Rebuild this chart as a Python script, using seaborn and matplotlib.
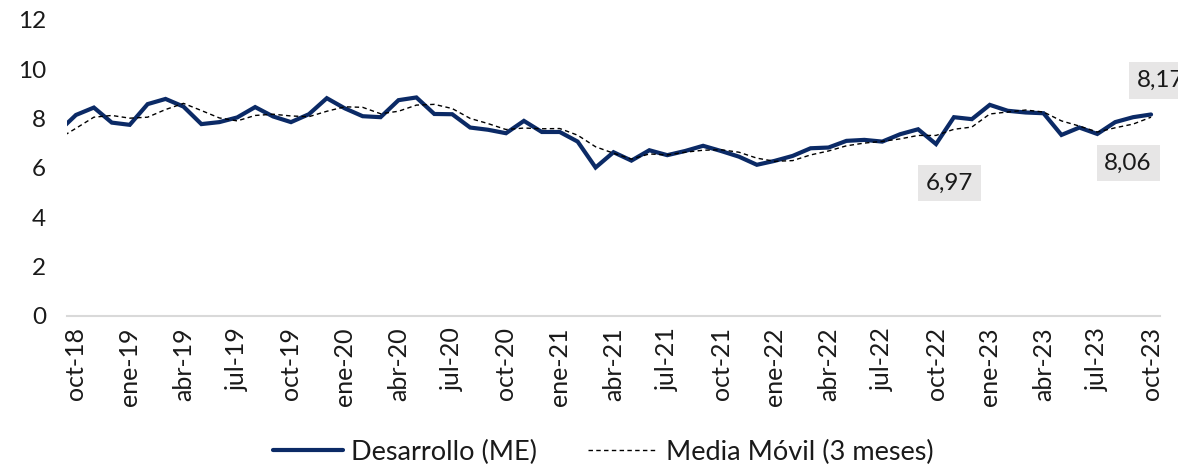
import numpy as np
import pandas as pd
import matplotlib
matplotlib.use("Agg")
import matplotlib.pyplot as plt
import seaborn as sns

# month index relative to oct-18 (first value is sep-18, partly outside the plot)
month_idx = list(range(-1, 61))
desarrollo = [7.46, 8.15, 8.45, 7.84, 7.75, 8.59, 8.80, 8.49, 7.78, 7.86, 8.05,
              8.47, 8.09, 7.86, 8.18, 8.83, 8.42, 8.10, 8.06, 8.75, 8.86, 8.19,
              8.18, 7.64, 7.55, 7.41, 7.91, 7.46, 7.46, 7.07, 6.02, 6.64, 6.30,
              6.72, 6.52, 6.69, 6.90, 6.69, 6.46, 6.13, 6.29, 6.49, 6.80, 6.83,
              7.10, 7.14, 7.07, 7.37, 7.57, 6.97, 8.06, 7.98, 8.56, 8.32, 8.25,
              8.22, 7.34, 7.64, 7.38, 7.86, 8.06, 8.17]
media_movil = [7.17, 7.61, 8.06, 8.13, 8.02, 8.06, 8.37, 8.62, 8.33, 8.03, 7.91,
               8.13, 8.18, 8.11, 8.08, 8.30, 8.48, 8.46, 8.20, 8.30, 8.55, 8.58,
               8.41, 8.01, 7.80, 7.56, 7.62, 7.59, 7.60, 7.33, 6.86, 6.60, 6.36,
               6.57, 6.53, 6.64, 6.72, 6.74, 6.64, 6.40, 6.27, 6.30, 6.53, 6.69,
               6.90, 7.01, 7.08, 7.18, 7.32, 7.32, 7.57, 7.66, 8.19, 8.27, 8.35,
               8.27, 7.91, 7.70, 7.46, 7.63, 7.78, 8.06]
tick_labels = ["oct-18", "ene-19", "abr-19", "jul-19", "oct-19", "ene-20", "abr-20",
               "jul-20", "oct-20", "ene-21", "abr-21", "jul-21", "oct-21", "ene-22",
               "abr-22", "jul-22", "oct-22", "ene-23", "abr-23", "jul-23", "oct-23"]
series_names = ["Desarrollo (ME)", "Media Móvil (3 meses)"]
callouts = [(series_names[0], 48, "6,97"), (series_names[1], 60, "8,06"), (series_names[0], 60, "8,17")]

df = pd.DataFrame({
    "mes": month_idx * 2,
    "valor": desarrollo + media_movil,
    "serie": [series_names[0]] * len(desarrollo) + [series_names[1]] * len(media_movil),
})

sns.set_theme(style="white")
plt.rcParams["font.family"] = ["Lato", "DejaVu Sans"]
txt_color = "#1a1a1a"

fig = plt.figure(figsize=(11.78, 4.67), dpi=100)
ax = fig.add_axes([67 / 1178, 1 - 316 / 467, (1160 - 67) / 1178, (316 - 20) / 467])

navy = "#0b2a66"
sns.lineplot(data=df[df.serie == series_names[0]], x="mes", y="valor", ax=ax,
             color=navy, linewidth=3.0, label=series_names[0], solid_joinstyle="miter")
sns.lineplot(data=df[df.serie == series_names[1]], x="mes", y="valor", ax=ax,
             color="black", linewidth=1.0, dashes=False, label=series_names[1])
ax.lines[1].set_dashes([3.2, 2.4])

ax.set_xlim(-0.5, 60.5)
ax.set_ylim(0, 12)
ax.set_yticks(range(0, 13, 2))
ax.set_yticklabels([str(v) for v in range(0, 13, 2)], fontsize=17.5, color=txt_color)
ax.set_xticks(range(0, 61, 3))
ax.set_xticklabels(tick_labels, rotation=90, fontsize=18, color=txt_color)
ax.tick_params(axis="both", length=0)
ax.tick_params(axis="y", pad=15)
ax.tick_params(axis="x", pad=8)
ax.set_xlabel("")
ax.set_ylabel("")
for side in ["top", "right", "left"]:
    ax.spines[side].set_visible(False)
ax.spines["bottom"].set_color("#d9d9d9")
ax.spines["bottom"].set_linewidth(1.5)
ax.grid(False)

# callout labels
offsets = {"6,97": (10, -28), "8,06": (-16.5, -33), "8,17": (7, 24.5)}
lookup = {series_names[0]: desarrollo, series_names[1]: media_movil}
for name, i, text in callouts:
    yv = lookup[name][month_idx.index(i)]
    ax.annotate(text, xy=(i, yv), xytext=offsets[text], textcoords="offset points",
                ha="center", va="center", fontsize=17.5, color=txt_color,
                bbox=dict(boxstyle="square,pad=0.32", fc="#e7e6e6", ec="none"),
                annotation_clip=False)

ax.get_legend().remove()
handles, labels = ax.get_legend_handles_labels()
leg = fig.legend(handles, labels, loc="center", bbox_to_anchor=(0.512, 0.032), ncol=2,
                 frameon=False, fontsize=19.5, handlelength=2.6, handletextpad=0.27,
                 columnspacing=1.9)
for t in leg.get_texts():
    t.set_color(txt_color)
leg.legend_handles[1].set_dashes([3.2, 2.4])

fig.savefig("out.png", dpi=100)
